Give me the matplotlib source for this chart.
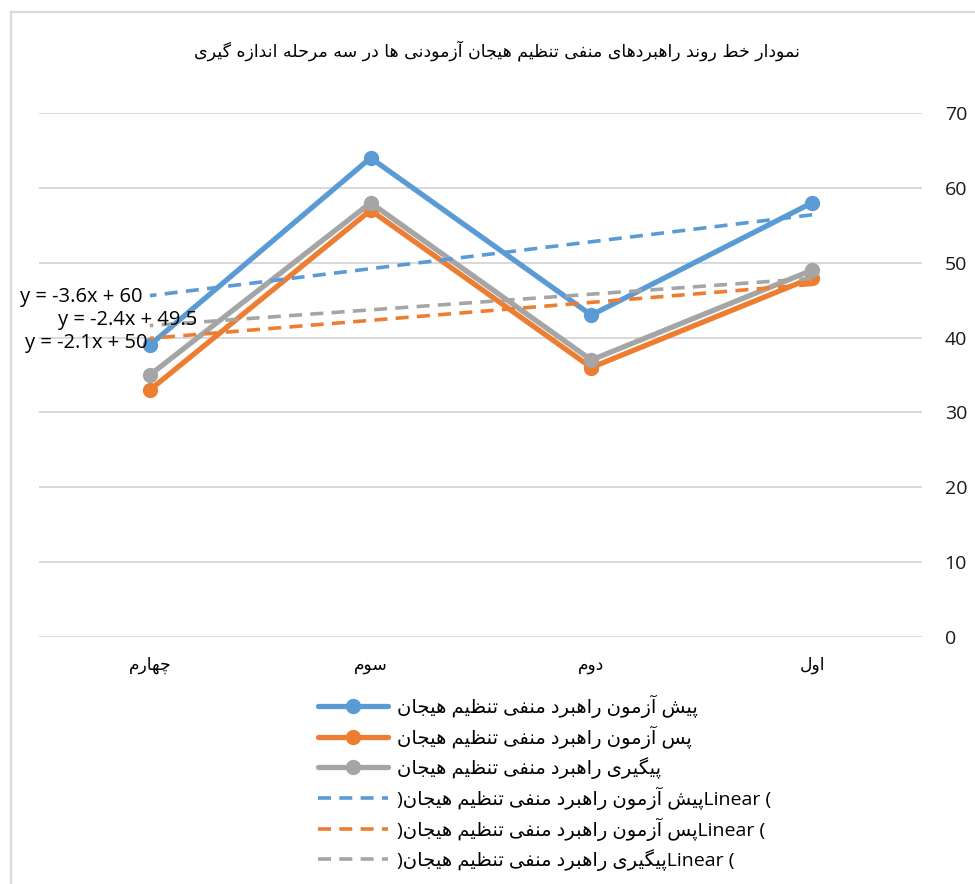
import numpy as np
import matplotlib
matplotlib.use("Agg")
import matplotlib.pyplot as plt
from matplotlib.lines import Line2D

# data
categories = ["اول", "دوم", "سوم", "چهارم"]
series_names = [
    "پیش آزمون راهبرد منفی تنظیم هیجان",
    "پس آزمون راهبرد منفی تنظیم هیجان",
    "پیگیری راهبرد منفی تنظیم هیجان",
]
pre_test = [58, 43, 64, 39]
post_test = [48, 36, 57, 33]
follow_up = [49, 37, 58, 35]
title = "نمودار خط روند راهبردهای منفی تنظیم هیجان آزمودنی ها در سه مرحله اندازه گیری"
y_ticks = [0, 10, 20, 30, 40, 50, 60, 70]

colors = ["#5B9BD5", "#ED7D31", "#A5A5A5"]


# matplotlib has no arabic shaping, so pick the joined forms by hand
# char: (isolated, final, initial, medial) ; 2-tuple = joins only to the right
FORMS = {
    "ا": ("\uFE8D", "\uFE8E"),
    "آ": ("\uFE81", "\uFE82"),
    "ب": ("\uFE8F", "\uFE90", "\uFE91", "\uFE92"),
    "پ": ("\uFB56", "\uFB57", "\uFB58", "\uFB59"),
    "ت": ("\uFE95", "\uFE96", "\uFE97", "\uFE98"),
    "ج": ("\uFE9D", "\uFE9E", "\uFE9F", "\uFEA0"),
    "چ": ("\uFB7A", "\uFB7B", "\uFB7C", "\uFB7D"),
    "ح": ("\uFEA1", "\uFEA2", "\uFEA3", "\uFEA4"),
    "خ": ("\uFEA5", "\uFEA6", "\uFEA7", "\uFEA8"),
    "د": ("\uFEA9", "\uFEAA"),
    "ر": ("\uFEAD", "\uFEAE"),
    "ز": ("\uFEAF", "\uFEB0"),
    "س": ("\uFEB1", "\uFEB2", "\uFEB3", "\uFEB4"),
    "ش": ("\uFEB5", "\uFEB6", "\uFEB7", "\uFEB8"),
    "ط": ("\uFEC1", "\uFEC2", "\uFEC3", "\uFEC4"),
    "ظ": ("\uFEC5", "\uFEC6", "\uFEC7", "\uFEC8"),
    "ف": ("\uFED1", "\uFED2", "\uFED3", "\uFED4"),
    "گ": ("\uFB92", "\uFB93", "\uFB94", "\uFB95"),
    "ل": ("\uFEDD", "\uFEDE", "\uFEDF", "\uFEE0"),
    "م": ("\uFEE1", "\uFEE2", "\uFEE3", "\uFEE4"),
    "ن": ("\uFEE5", "\uFEE6", "\uFEE7", "\uFEE8"),
    "ه": ("\uFEE9", "\uFEEA", "\uFEEB", "\uFEEC"),
    "و": ("\uFEED", "\uFEEE"),
    "ی": ("\uFBFC", "\uFBFD", "\uFBFE", "\uFBFF"),
}


def fa(text):
    out = []
    for i, ch in enumerate(text):
        if ch not in FORMS:
            out.append(ch)
            continue
        prev = text[i - 1] if i > 0 else ""
        nxt = text[i + 1] if i + 1 < len(text) else ""
        join_prev = prev in FORMS and len(FORMS[prev]) == 4
        join_next = len(FORMS[ch]) == 4 and nxt in FORMS
        f = FORMS[ch]
        if join_prev and join_next:
            out.append(f[3])
        elif join_prev:
            out.append(f[1])
        elif join_next:
            out.append(f[2])
        else:
            out.append(f[0])
    return "".join(out)[::-1]


num_font = ["Open Sans", "DejaVu Sans"]
fa_font = ["DejaVu Sans"]

fig = plt.figure(figsize=(9.75, 8.84), dpi=100)
ax = fig.add_axes([0.0405, 0.2794, 0.9056, 0.5928])

x = np.arange(1, len(categories) + 1)
all_series = [pre_test, post_test, follow_up]

handles = []
for vals, c, name in zip(all_series, colors, series_names):
    h, = ax.plot(x, vals, color=c, lw=3.8, marker="o", ms=10, zorder=3,
                 solid_capstyle="round", label=fa(name))
    handles.append(h)

#linear trendlines (excel style, x = 1..4)
eq_pos = [(4.31, 45.4), (4.10, 42.35), (4.29, 39.3)]
for vals, c, name, pos in zip(all_series, colors, series_names, eq_pos):
    slope, icpt = np.polyfit(x, vals, 1)
    h, = ax.plot(x, slope * x + icpt, color=c, lw=2.6, ls=(0, (3.6, 2.3)), zorder=4,
                 label=")" + fa(name) + "Linear (")
    handles.append(h)
    ax.text(pos[0], pos[1], f"y = {slope:.1f}x + {icpt:g}", ha="center", va="center",
            fontsize=14.5, family=num_font, color="black", zorder=5, clip_on=False)

ax.set_xlim(4.5, 0.5)
ax.set_ylim(0, 70)
ax.set_yticks(y_ticks)
ax.yaxis.tick_right()
ax.set_xticks(x)
ax.set_xticklabels([fa(c) for c in categories], family=fa_font, fontsize=12.3)
for lab in ax.get_yticklabels():
    lab.set_family(num_font)
    lab.set_fontsize(14)
    lab.set_horizontalalignment("left")
ax.tick_params(axis="y", length=0, pad=16, colors="#1a1a1a")
ax.tick_params(axis="x", length=0, pad=14, colors="black")
ax.grid(axis="y", color="#d9d9d9", lw=1.4)
ax.set_axisbelow(True)
for s in ax.spines.values():
    s.set_visible(False)

fig.text(0.51, 0.943, fa(title), ha="center", va="center", fontsize=12.5, family=fa_font)

fig.legend(handles=handles, loc="upper left", bbox_to_anchor=(0.326, 0.2144),
           frameon=False, handlelength=3.6, handletextpad=0.45, labelspacing=0.41,
           borderaxespad=0, borderpad=0, prop={"family": num_font, "size": 14})

# outer chart border (only left and top visible in the crop)
fig.add_artist(Line2D([0.0113, 0.0113], [0, 0.9865], color="#d9d9d9", lw=1.6))
fig.add_artist(Line2D([0.0113, 1], [0.9865, 0.9865], color="#d9d9d9", lw=1.6))

fig.savefig("out.png", dpi=100)
